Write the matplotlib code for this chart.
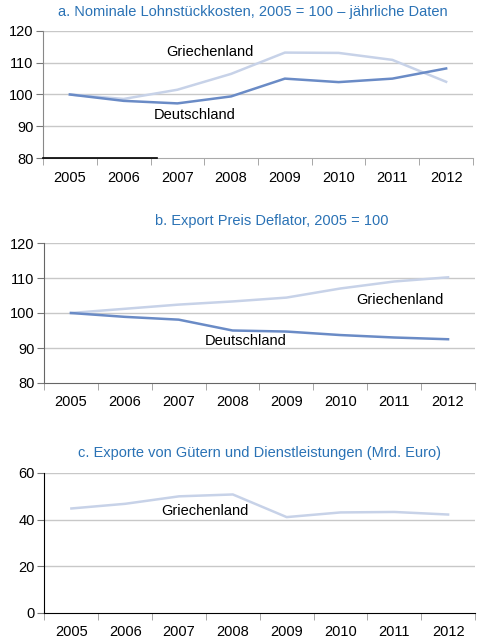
import matplotlib
matplotlib.use("Agg")
import matplotlib.pyplot as plt
import numpy as np

plt.rcParams['font.family'] = ['Liberation Sans', 'DejaVu Sans']

years = ["2005", "2006", "2007", "2008", "2009", "2010", "2011", "2012"]

# Panel a: Nominale Lohnstückkosten
a_gr = [100, 98.6, 101.5, 106.5, 113.2, 113.1, 110.9, 104.0]
a_de = [100, 98.0, 97.2, 99.4, 105.0, 103.9, 105.0, 108.2]
# Panel b: Export Preis Deflator
b_gr = [100, 101.2, 102.4, 103.3, 104.4, 107.0, 109.0, 110.2]
b_de = [100, 98.9, 98.1, 95.0, 94.7, 93.7, 93.0, 92.5]
# Panel c: Exporte (Mrd. Euro)
c_gr = [44.8, 46.8, 50.0, 50.8, 41.1, 43.1, 43.3, 42.2]

titles = ["a. Nominale Lohnstückkosten, 2005 = 100 – jährliche Daten",
          "b. Export Preis Deflator, 2005 = 100",
          "c. Exporte von Gütern und Dienstleistungen (Mrd. Euro)"]

C_DE = "#6a8bc6"
C_GR = "#c7d2e8"
C_TITLE = "#2a72b5"
C_GRID = "#c8c8c8"

W, H = 485, 644
fig = plt.figure(figsize=(W / 100, H / 100), dpi=100)

def ax_at(l, r, t, b):
    return fig.add_axes([l / W, 1 - b / H, (r - l) / W, (b - t) / H])

x = np.arange(len(years))

def style(ax, ylim, yticks, spine_color):
    ax.set_xlim(-0.5, len(years) - 0.5)
    ax.set_ylim(*ylim)
    ax.set_yticks(yticks)
    ax.set_yticklabels([str(v) for v in yticks], fontsize=10.5)
    ax.set_xticks(x)
    ax.set_xticklabels(years, fontsize=10.5)
    ax.tick_params(axis='x', which='major', length=0, pad=9)
    ax.set_xticks(np.arange(-0.5, len(years) + 0.5, 1), minor=True)
    ax.tick_params(axis='x', which='minor', length=5, color="#999999", direction='out')
    ax.tick_params(axis='y', length=5, color="#777777", direction='out', pad=2)
    for s in ['top', 'right']:
        ax.spines[s].set_visible(False)
    ax.spines['left'].set_color(spine_color)
    ax.spines['bottom'].set_color(spine_color)
    for v in yticks[1:]:
        ax.axhline(v, color=C_GRID, lw=1, zorder=0)

# Panel a
ax1 = ax_at(43, 473, 31, 158)
style(ax1, (80, 120), [80, 90, 100, 110, 120], "#888888")
ax1.spines['bottom'].set_color("#aaaaaa")
ax1.axhline(80, xmin=0, xmax=(157 - 43) / 430, color="black", lw=1.2, zorder=3, clip_on=False)
ax1.plot(x, a_gr, color=C_GR, lw=1.8)
ax1.plot(x, a_de, color=C_DE, lw=1.8)
ax1.text(2.6, 113.4, "Griechenland", ha='center', va='center', fontsize=10.5)
ax1.text(2.33, 93.5, "Deutschland", ha='center', va='center', fontsize=10.5)
fig.text(253 / W, 1 - 12 / H, titles[0], ha='center', va='center', fontsize=10.55, color=C_TITLE)

# Panel b
ax2 = ax_at(44, 475, 243, 383)
style(ax2, (80, 120), [80, 90, 100, 110, 120], "#666666")
ax2.plot(x, b_gr, color=C_GR, lw=1.8)
ax2.plot(x, b_de, color=C_DE, lw=1.8)
ax2.text(6.1, 103.7, "Griechenland", ha='center', va='center', fontsize=10.5)
ax2.text(3.25, 92.0, "Deutschland", ha='center', va='center', fontsize=10.5)
fig.text(272 / W, 1 - 221 / H, titles[1], ha='center', va='center', fontsize=10.55, color=C_TITLE)

# Panel c
ax3 = ax_at(44.5, 475, 473, 613)
style(ax3, (0, 60), [0, 20, 40, 60], "black")
ax3.plot(x, c_gr, color=C_GR, lw=1.8)
ax3.text(2.48, 43.7, "Griechenland", ha='center', va='center', fontsize=10.5)
fig.text(260 / W, 1 - 453 / H, titles[2], ha='center', va='center', fontsize=10.55, color=C_TITLE)

fig.savefig("out.png", dpi=100)
